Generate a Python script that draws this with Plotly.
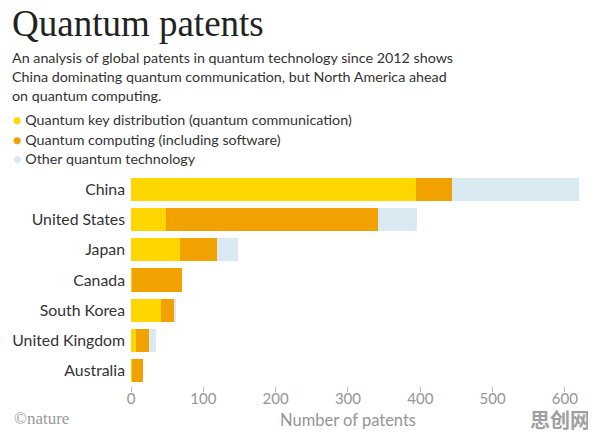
import plotly.graph_objects as go

countries = ['China', 'United States', 'Japan', 'Canada', 'South Korea', 'United Kingdom', 'Australia']
key_distribution = [394, 48, 68, 1, 41, 7, 1]
computing = [50, 293, 51, 69, 19, 18, 15]
other = [175, 55, 29, 0, 1, 10, 0]

x_ticks = [0, 100, 200, 300, 400, 500, 600]

colors = {
    'key': '#FFD600',
    'computing': '#F2A200',
    'other': '#DAEAF3',
}

fig = go.Figure()
fig.add_trace(go.Bar(y=countries, x=key_distribution, orientation='h',
                     marker=dict(color=colors['key'], line=dict(width=0)),
                     name='Quantum key distribution (quantum communication)'))
fig.add_trace(go.Bar(y=countries, x=computing, orientation='h',
                     marker=dict(color=colors['computing'], line=dict(width=0)),
                     name='Quantum computing (including software)'))
fig.add_trace(go.Bar(y=countries, x=other, orientation='h',
                     marker=dict(color=colors['other'], line=dict(width=0)),
                     name='Other quantum technology'))

sans = 'Lato, Open Sans, sans-serif'

# page has an 8px body margin, so work in reference pixels minus 8
OFF = 8
FW, FH = 596 - OFF, 437 - OFF
L, R, T, B = 131 - OFF, 583 - OFF, 174 - OFF, 386 - OFF
W, H = R - L, B - T

fig.update_layout(
    barmode='stack',
    bargap=0.24,
    width=FW,
    height=FH,
    margin=dict(l=L, r=FW - R, t=T, b=FH - B, autoexpand=False),
    paper_bgcolor='white',
    plot_bgcolor='white',
    showlegend=False,
    font=dict(family=sans, color='#333333'),
    xaxis=dict(
        range=[0, 625],
        tickvals=x_ticks,
        ticks='outside',
        ticklen=5,
        tickcolor='#b8b8b8',
        tickfont=dict(size=15, color='#959595'),
        ticklabelstandoff=-6,
        showgrid=False,
        zeroline=False,
        showline=False,
        fixedrange=True,
    ),
    yaxis=dict(
        autorange='reversed',
        tickfont=dict(size=15.8, color='#333333'),
        ticklabelstandoff=5,
        showgrid=False,
        zeroline=False,
        showline=False,
        ticks='',
    ),
)


def px_x(x):
    return (x - OFF - L) / W


def px_y(y):
    return (B - (y - OFF)) / H


# title and subtitle
fig.add_annotation(text='Quantum patents', xref='paper', yref='paper', x=px_x(10), y=px_y(23),
                   xanchor='left', yanchor='middle', showarrow=False,
                   font=dict(family='Liberation Serif, serif', size=37, color='#222222'))

subtitle = ['An analysis of global patents in quantum technology since 2012 shows',
            'China dominating quantum communication, but North America ahead',
            'on quantum computing.']
for i, line in enumerate(subtitle):
    fig.add_annotation(text=line, xref='paper', yref='paper', x=px_x(10),
                       y=px_y(58 + i * 18.6),
                       xanchor='left', yanchor='middle', showarrow=False,
                       font=dict(size=14.3, color='#333333'))

legend_items = [('Quantum key distribution (quantum communication)', colors['key']),
                ('Quantum computing (including software)', colors['computing']),
                ('Other quantum technology', colors['other'])]
for i, (label, c) in enumerate(legend_items):
    fig.add_annotation(text=f"<span style='color:{c}'>●</span> {label}",
                       xref='paper', yref='paper', x=px_x(11),
                       y=px_y(120 + i * 19.3),
                       xanchor='left', yanchor='middle', showarrow=False,
                       font=dict(size=14.3, color='#333333'))

fig.add_annotation(text='Number of patents', xref='paper', yref='paper', x=px_x(348),
                   y=px_y(420), xanchor='center', yanchor='middle', showarrow=False,
                   font=dict(size=16.5, color='#959595'))

fig.add_annotation(text='©nature', xref='paper', yref='paper', x=px_x(12),
                   y=px_y(418), xanchor='left', yanchor='middle', showarrow=False,
                   font=dict(family='Liberation Serif, serif', size=17, color='#9a9a9a'))

fig.add_annotation(text='<b>思创网</b>', xref='paper', yref='paper', x=px_x(592),
                   y=px_y(419), xanchor='right', yanchor='middle', showarrow=False,
                   font=dict(family='Noto Sans CJK SC', size=20, color='#a0a0a0'))

fig.write_html('out.html')
